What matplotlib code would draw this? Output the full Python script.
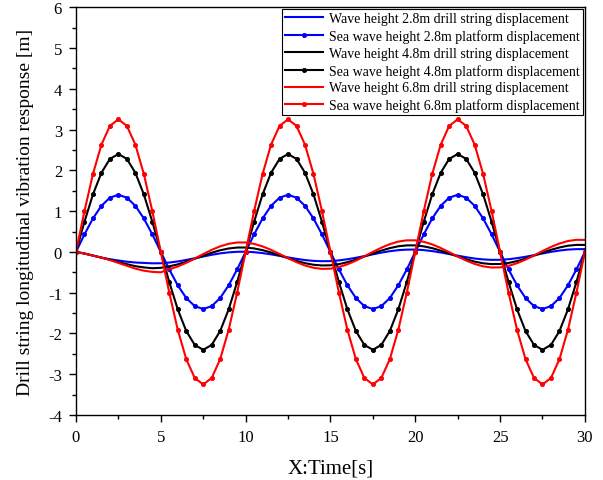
import numpy as np
import matplotlib
matplotlib.use("Agg")
import matplotlib.pyplot as plt

plt.rcParams["font.family"] = ["Liberation Serif", "DejaVu Serif"]
plt.rcParams["axes.unicode_minus"] = False

# time axis, 0.5 s step
t = np.arange(0, 30.01, 0.5)

# platform displacement, one row per 10 s period
plat_28 = [0, 0.43, 0.82, 1.13, 1.33, 1.40, 1.33, 1.13, 0.82, 0.43,
           0, -0.43, -0.82, -1.13, -1.33, -1.40, -1.33, -1.13, -0.82, -0.43,
           0, 0.43, 0.82, 1.13, 1.33, 1.40, 1.33, 1.13, 0.82, 0.43,
           0, -0.43, -0.82, -1.13, -1.33, -1.40, -1.33, -1.13, -0.82, -0.43,
           0, 0.43, 0.82, 1.13, 1.33, 1.40, 1.33, 1.13, 0.82, 0.43,
           0, -0.43, -0.82, -1.13, -1.33, -1.40, -1.33, -1.13, -0.82, -0.43, 0]
plat_48 = [0, 0.74, 1.41, 1.94, 2.28, 2.40, 2.28, 1.94, 1.41, 0.74,
           0, -0.74, -1.41, -1.94, -2.28, -2.40, -2.28, -1.94, -1.41, -0.74,
           0, 0.74, 1.41, 1.94, 2.28, 2.40, 2.28, 1.94, 1.41, 0.74,
           0, -0.74, -1.41, -1.94, -2.28, -2.40, -2.28, -1.94, -1.41, -0.74,
           0, 0.74, 1.41, 1.94, 2.28, 2.40, 2.28, 1.94, 1.41, 0.74,
           0, -0.74, -1.41, -1.94, -2.28, -2.40, -2.28, -1.94, -1.41, -0.74, 0]
plat_68 = [0, 1.00, 1.91, 2.63, 3.09, 3.25, 3.09, 2.63, 1.91, 1.00,
           0, -1.00, -1.91, -2.63, -3.09, -3.25, -3.09, -2.63, -1.91, -1.00,
           0, 1.00, 1.91, 2.63, 3.09, 3.25, 3.09, 2.63, 1.91, 1.00,
           0, -1.00, -1.91, -2.63, -3.09, -3.25, -3.09, -2.63, -1.91, -1.00,
           0, 1.00, 1.91, 2.63, 3.09, 3.25, 3.09, 2.63, 1.91, 1.00,
           0, -1.00, -1.91, -2.63, -3.09, -3.25, -3.09, -2.63, -1.91, -1.00, 0]

# drill string displacement
drill_28 = [0, -0.04, -0.09, -0.14, -0.18, -0.21, -0.24, -0.26, -0.27, -0.28,
            -0.278, -0.261, -0.234, -0.197, -0.155, -0.113, -0.071, -0.036, -0.011, 0.003,
            0.005, -0.007, -0.029, -0.060, -0.097, -0.134, -0.170, -0.200, -0.220, -0.228,
            -0.225, -0.208, -0.180, -0.144, -0.102, -0.059, -0.018, 0.017, 0.043, 0.056,
            0.058, 0.044, 0.020, -0.014, -0.052, -0.092, -0.130, -0.162, -0.184, -0.195,
            -0.193, -0.179, -0.153, -0.119, -0.079, -0.039, 0.001, 0.033, 0.057, 0.068, 0.068]
drill_48 = [0, -0.04, -0.09, -0.14, -0.19, -0.25, -0.30, -0.35, -0.38, -0.40,
            -0.39, -0.353, -0.306, -0.242, -0.168, -0.093, -0.021, 0.040, 0.084, 0.107,
            0.108, 0.085, 0.043, -0.015, -0.084, -0.154, -0.220, -0.276, -0.315, -0.332,
            -0.328, -0.300, -0.252, -0.189, -0.115, -0.039, 0.032, 0.093, 0.138, 0.160,
            0.161, 0.136, 0.092, 0.031, -0.039, -0.112, -0.180, -0.238, -0.279, -0.299,
            -0.296, -0.271, -0.225, -0.164, -0.092, -0.019, 0.051, 0.109, 0.152, 0.172, 0.171]
drill_68 = [0, -0.04, -0.09, -0.14, -0.20, -0.27, -0.34, -0.41, -0.46, -0.49,
            -0.50, -0.425, -0.358, -0.267, -0.162, -0.053, 0.050, 0.137, 0.199, 0.231,
            0.231, 0.197, 0.135, 0.050, -0.050, -0.154, -0.251, -0.333, -0.390, -0.416,
            -0.411, -0.372, -0.304, -0.214, -0.109, 0.001, 0.103, 0.190, 0.253, 0.284,
            0.284, 0.248, 0.184, 0.096, -0.006, -0.112, -0.211, -0.295, -0.354, -0.383,
            -0.379, -0.343, -0.277, -0.189, -0.086, 0.021, 0.122, 0.206, 0.267, 0.296, 0.294]

series = [
    ("Wave height 2.8m drill string displacement", drill_28, "#0000ff", False),
    ("Sea wave height 2.8m platform displacement", plat_28, "#0000ff", True),
    ("Wave height 4.8m drill string displacement", drill_48, "black", False),
    ("Sea wave height 4.8m platform displacement", plat_48, "black", True),
    ("Wave height 6.8m drill string displacement", drill_68, "#ff0000", False),
    ("Sea wave height 6.8m platform displacement", plat_68, "#ff0000", True),
]

fig = plt.figure(figsize=(6.03, 4.81), dpi=100)
ax = fig.add_axes([0.126, 0.135, 0.844, 0.848])

for label, y, color, marked in series:
    if marked:
        ax.plot(t, y, color=color, lw=1.5, marker="o", ms=3.0,
                markerfacecolor=color, markeredgewidth=0.6, label=label)
    else:
        ax.plot(t, y, color=color, lw=1.5, label=label)

ax.set_xlim(0, 30)
ax.set_ylim(-4, 6)
ax.set_xticks(np.arange(0, 31, 5))
ax.set_xticks(np.arange(0, 31, 2.5), minor=True)
ax.set_yticks(np.arange(-4, 7, 1))
ax.set_yticks(np.arange(-4, 6.1, 0.5), minor=True)
ax.tick_params(which="major", direction="out", length=5, width=1, labelsize=12, pad=5)
ax.tick_params(which="minor", direction="out", length=3, width=1)
for s in ax.spines.values():
    s.set_linewidth(1.0)

ax.set_xlabel("X:Time[s]", fontsize=15, labelpad=10)
ax.set_ylabel("Drill string longitudinal vibration response [m]", fontsize=14, labelpad=10)

leg = ax.legend(loc="upper right", fontsize=10, frameon=True, fancybox=False,
                framealpha=1, borderaxespad=0.15, handlelength=2.8,
                labelspacing=0.28, borderpad=0.22, handletextpad=0.4)
leg.get_frame().set_edgecolor("black")
leg.get_frame().set_linewidth(0.8)

fig.savefig("out.png", dpi=100)
